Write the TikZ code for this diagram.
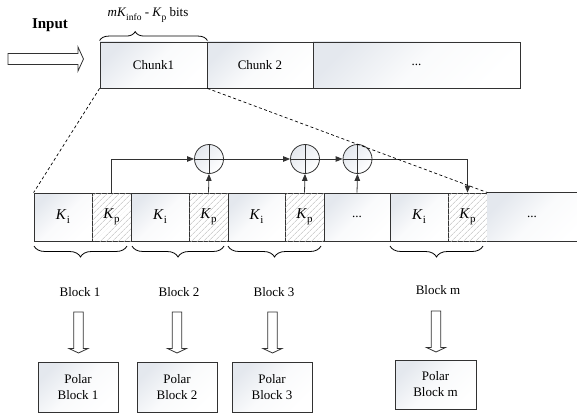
\documentclass[tikz,border=0pt]{standalone}
\usepackage{fontspec}
\setmainfont{Liberation Serif}
\usetikzlibrary{arrows.meta,decorations.pathreplacing,patterns.meta,calc}
\definecolor{shadec}{RGB}{228,232,238}
\definecolor{linec}{RGB}{50,50,50}
\newcommand\Ks[1]{{\fontsize{15}{15}\selectfont\textit{K}}\kern0.3pt\raisebox{-0.3em}{\fontsize{11}{11}\selectfont #1}}
\newcommand\Ksm[1]{\textit{K}\raisebox{-0.3em}{\fontsize{9.5}{9.5}\selectfont #1}}
\newcommand\hdown[3]{%
  \draw[hollow] (#1-4.75,#2) -- (#1+4.75,#2) -- (#1+4.75,#3-4.5) -- (#1+9.5,#3-4.5)
    -- (#1,#3) -- (#1-9.5,#3-4.5) -- (#1-4.75,#3-4.5) -- cycle;}
\begin{document}
\begin{tikzpicture}[x=1pt,y=-1pt,
  every node/.style={font=\fontsize{13}{15}\selectfont},
  box/.style={draw=linec, line width=0.8pt, inner sep=0pt, top color=shadec, bottom color=white, middle color=white!80!shadec, shading angle=45},
  hatch/.style={draw=linec, line width=0.8pt, inner sep=0pt, fill=white,
    postaction={pattern={Lines[angle=45,distance=4pt,line width=0.5pt]}, pattern color=gray!55}},
  mid/.style={minimum height=48pt},
  xor/.style={circle, draw=linec, line width=0.8pt, minimum size=29pt, inner sep=0pt,
    top color=shadec, bottom color=white, shading angle=45,
    path picture={\draw[linec, line width=0.8pt]
      (path picture bounding box.north) -- (path picture bounding box.south)
      (path picture bounding box.west) -- (path picture bounding box.east);}},
  arr/.style={draw=linec, line width=0.8pt, -{Triangle[length=7pt,width=5.5pt]}},
  dashln/.style={draw=black, line width=0.7pt, dash pattern=on 3pt off 2.5pt},
  brace/.style={decorate, decoration={brace, amplitude=#1}, draw=black, line width=0.8pt},
  hollow/.style={draw=linec, line width=0.8pt, fill=white, line join=miter},
  polar/.style={box, minimum width=80pt, minimum height=50pt, align=center, font=\fontsize{13}{16}\selectfont}
]
\useasboundingbox (0,0) rectangle (577,417);

% top row
\node[font=\bfseries\fontsize{15}{17}\selectfont] (input) at (50,25) {Input};
\draw[hollow] (8,53.5) -- (78,53.5) -- (78,47) -- (83.5,59) -- (78,71) -- (78,64.5) -- (8,64.5) -- cycle;
\node[box, minimum width=107pt, minimum height=46pt] (c1) at (153.5,65) {Chunk1};
\node[box, minimum width=106pt, minimum height=46pt] (c2) at (260,65) {Chunk 2};
\node[box, minimum width=207pt, minimum height=46pt] (c3) at (416.5,65) {...};
\draw[brace={9pt}, decoration={aspect=0.33}] ($(c1.north west)+(0,-1)$) -- ($(c1.north east)+(0,-1)$);
\node (toplab) at (148,15) {\textit{m}\Ksm{info} - \Ksm{p} bits};

% middle row
\node[box, mid, minimum width=58pt] (ki1) at (63,217) {\Ks{i}};
\node[hatch, mid, minimum width=39pt] (kp1) at (111.5,217) {\Ks{p}};
\node[box, mid, minimum width=58pt] (ki2) at (160,217) {\Ks{i}};
\node[hatch, mid, minimum width=39pt] (kp2) at (208.5,217) {\Ks{p}};
\node[box, mid, minimum width=57pt] (ki3) at (256.5,217) {\Ks{i}};
\node[hatch, mid, minimum width=39pt] (kp3) at (304.5,217) {\Ks{p}};
\node[box, mid, minimum width=66pt] (dots) at (357,217) {...};
\node[box, mid, minimum width=58pt] (kim) at (419,217) {\Ks{i}};
\node[hatch, mid, minimum width=39pt] (kpm) at (467.5,217) {\Ks{p}};
\node[box, mid, draw=none, minimum width=100pt] (rest) at (537,217) {};
\node at (532,217) {...};
\draw[linec, line width=0.8pt] (kpm.north east) -- (rest.north east) (kpm.south east) -- (rest.south east);

% xor circles
\node[xor] (x1) at (209,159) {};
\node[xor] (x2) at (305,159) {};
\node[xor] (x3) at (357.5,159) {};
\draw[arr] (kp1.north) |- (x1.west);
\draw[arr] (kp2.north) -- (x1.south);
\draw[arr] (x1.east) -- (x2.west);
\draw[arr] (kp3.north) -- (x2.south);
\draw[arr] (x2.east) -- (x3.west);
\draw[arr] (dots.north) -- (x3.south);
\draw[arr] (x3.east) -| (kpm.north);

% dashed zoom lines
\draw[dashln] (c1.south west) -- (ki1.north west);
\draw[dashln] (c1.south east) -- (kpm.north east);

% braces below
\draw[brace={11pt}] (127,246) -- (34,246);
\draw[brace={11pt}] (224,246) -- (132,246);
\draw[brace={11pt}] (321,246) -- (228,246);
\draw[brace={11pt}] (483,246) -- (390,246);

% block labels
\node (b1) at (80,292) {Block 1};
\node (b2) at (179,292) {Block 2};
\node (b3) at (274,292) {Block 3};
\node (bm) at (438,290) {Block m};

% hollow arrows
\hdown{78.5}{312}{353}
\hdown{177}{312}{353}
\hdown{272.5}{312}{353}
\hdown{436}{311}{352}

% polar blocks
\node[polar] (p1) at (78,387) {Polar\\Block 1};
\node[polar] (p2) at (177,387) {Polar\\Block 2};
\node[polar] (p3) at (272,387) {Polar\\Block 3};
\node[polar, minimum width=81pt, minimum height=49pt] (pm) at (435.5,384.5) {Polar\\Block m};
\end{tikzpicture}
\end{document}
